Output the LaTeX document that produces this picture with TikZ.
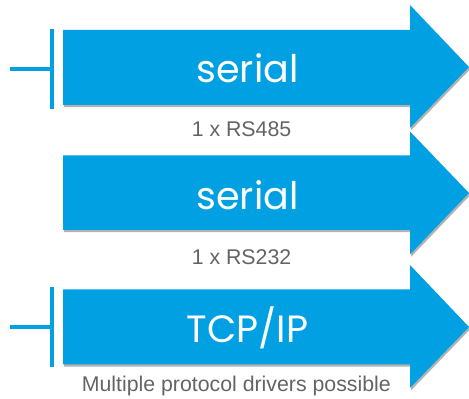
\documentclass[tikz,border=0pt]{standalone}
\usepackage{fontspec}
\setmainfont{Liberation Sans}
\newfontfamily\geofont{Poppins}
\usetikzlibrary{shadows}
\definecolor{arrowblue}{RGB}{0,160,227}
\definecolor{labelgray}{RGB}{100,100,100}
\begin{document}
\begin{tikzpicture}[x=1pt,y=1pt,
  bigarrow/.style={fill=arrowblue, draw=none,
    drop shadow={shadow xshift=1.2pt, shadow yshift=-2.2pt, opacity=0.3, fill=black}},
  maintext/.style={text=white, font=\geofont\fontsize{38}{42}\selectfont, anchor=base, inner sep=0pt},
  sublabel/.style={text=labelgray, font=\fontsize{21.3}{25}\selectfont, anchor=base, inner sep=0pt},
  stopbar/.style={draw=arrowblue, line width=4pt}
]
\useasboundingbox (0,0) rectangle (469,399);
% arrow 1
\path[bigarrow] (63,369) -- (410,369) -- (410,394) -- (469,332) -- (410,271) -- (410,294) -- (63,294) -- cycle;
% arrow 2
\path[bigarrow] (63,243.5) -- (410,243.5) -- (410,267.5) -- (469,206) -- (410,144.5) -- (410,169) -- (63,169) -- cycle;
% arrow 3
\path[bigarrow] (63,109.5) -- (410,109.5) -- (410,134) -- (469,72) -- (410,11) -- (410,34.5) -- (63,34.5) -- cycle;

\node[maintext] (t1) at (247.5,316) {serial};
\node[maintext] (t2) at (247.5,189) {serial};
\node[maintext] (t3) at (247.5,56) {TCP/IP};

\node[sublabel] (s1) at (241.5,262.5) {1 x RS485};
\node[sublabel] (s2) at (241.5,134.5) {1 x RS232};
\node[sublabel] (s3) at (236.3,7) {Multiple protocol drivers possible};

% stop bars
\coordinate (b1top) at (52,370);
\coordinate (b1bot) at (52,290);
\coordinate (b1in) at (52,330);
\coordinate (b1out) at (10,330);
\draw[stopbar] (b1top) -- (b1bot);
\draw[stopbar] (b1out) -- (b1in);
\coordinate (b3top) at (52,112);
\coordinate (b3bot) at (52,32);
\coordinate (b3in) at (52,72);
\coordinate (b3out) at (10,72);
\draw[stopbar] (b3top) -- (b3bot);
\draw[stopbar] (b3out) -- (b3in);
\end{tikzpicture}
\end{document}
